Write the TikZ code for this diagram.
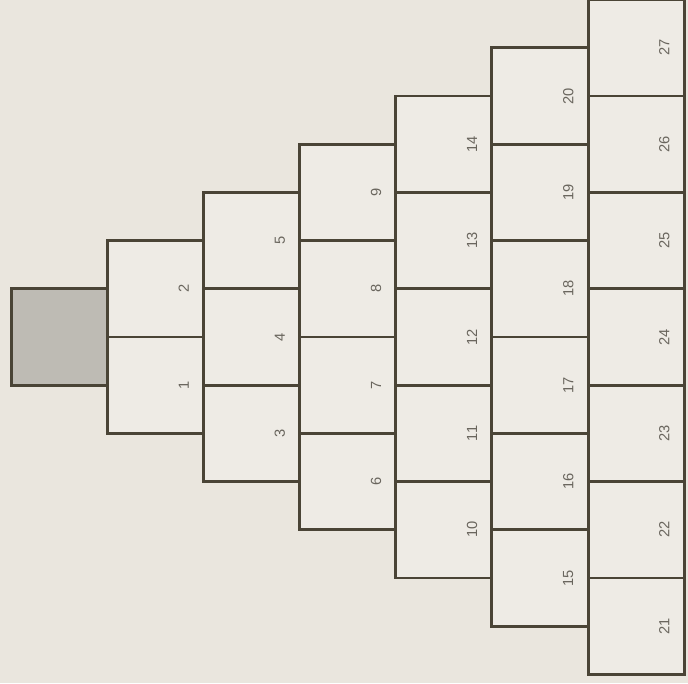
\documentclass[tikz,border=0pt]{standalone}
\usepackage{fontspec}
\setsansfont{Liberation Sans}
\definecolor{paper}{RGB}{234,230,222}
\definecolor{boxfill}{RGB}{238,235,229}
\definecolor{rule}{RGB}{74,68,54}
\definecolor{shade}{RGB}{190,187,180}
\definecolor{digit}{RGB}{105,101,93}
\begin{document}
\begin{tikzpicture}[
  x=0.75pt,
  y=-0.75pt,
  cell/.style={
    draw=rule,
    fill=boxfill,
    line width=2.2pt,
    minimum width=72.1pt,
    minimum height=72.3pt,
    inner sep=0pt
  },
  startcell/.style={cell, fill=shade},
  num/.style={
    font=\sffamily\fontsize{11}{13}\selectfont,
    text=digit,
    rotate=90,
    inner sep=0pt
  }
]

% ---------------------------------------------------------------------------
% paper and frame
% ---------------------------------------------------------------------------
\fill[paper] (0,0) rectangle (688,683);
\useasboundingbox (0,0) rectangle (688,683);

% ---------------------------------------------------------------------------
% shaded start square and the numbered steps
% ---------------------------------------------------------------------------
\node[startcell] (start) at (59.5,337) {};
\foreach \k in {1,...,6}{
  \pgfmathtruncatemacro{\first}{1+(\k-1)*(\k+2)/2}
  \foreach \j in {0,...,\k}{
    \pgfmathtruncatemacro{\n}{\first+\j}
    \node[cell] (b\n) at ({59.5+96.1*\k},{337+(\k/2-\j)*96.4}) {};
    \node[num] (n\n) at ([xshift=-16pt]b\n.east) {\n};
  }
}
\end{tikzpicture}
\end{document}
